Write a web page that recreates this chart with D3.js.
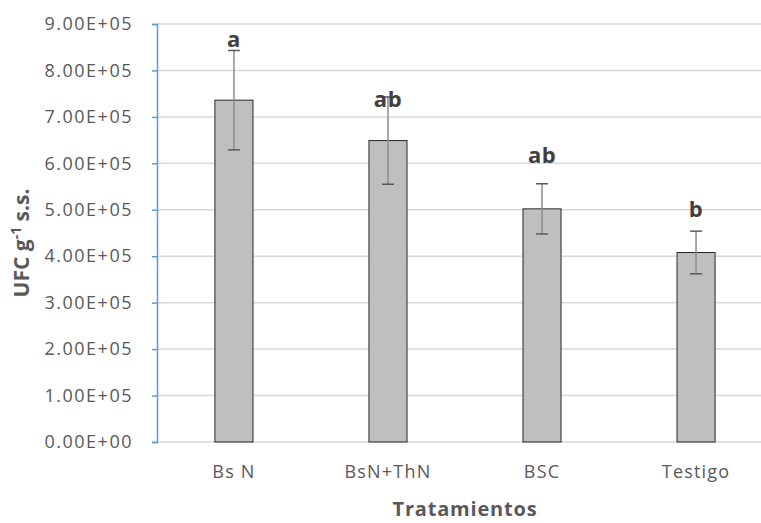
<!DOCTYPE html>
<html>
<head>
<meta charset="utf-8">
<script src="https://cdn.jsdelivr.net/npm/d3@7"></script>
<style>
  body { margin: 0; background: #fff; }
  svg text { font-family: "Open Sans", "DejaVu Sans", sans-serif; }
</style>
</head>
<body>
<div id="chart"></div>
<script>
// Data
var treatments = ['Bs N', 'BsN+ThN', 'BSC', 'Testigo'];
var means = [7.36e5, 6.49e5, 5.02e5, 4.08e5];
var errors = [1.07e5, 0.94e5, 0.54e5, 0.46e5];
var letters = ['a', 'ab', 'ab', 'b'];
var letterAt = [8.51e5, 7.21e5, 6.01e5, 4.84e5]; // where the letters sit, in axis units
var yTicks = [0, 1e5, 2e5, 3e5, 4e5, 5e5, 6e5, 7e5, 8e5, 9e5];

var width = 761, height = 523;
var margin = { top: 24, right: -12, bottom: 81, left: 157 };

var svg = d3.select('#chart').append('svg')
  .attr('width', width)
  .attr('height', height);

var x = d3.scaleBand()
  .domain(treatments)
  .range([margin.left, width - margin.right])
  .paddingInner(0.753)
  .paddingOuter(0.376);

var y = d3.scaleLinear()
  .domain([0, 9e5])
  .range([height - margin.bottom, margin.top]);

// Excel style scientific labels: 9.00E+05
function sci(v) {
  if (v === 0) return '0.00E+00';
  var e = Math.floor(Math.log10(v));
  var m = v / Math.pow(10, e);
  return m.toFixed(2) + 'E+' + (e < 10 ? '0' + e : e);
}

// gridlines
svg.append('g')
  .selectAll('line')
  .data(yTicks.slice(1))
  .enter().append('line')
  .attr('x1', margin.left)
  .attr('x2', width - margin.right)
  .attr('y1', function(d) { return y(d); })
  .attr('y2', function(d) { return y(d); })
  .attr('stroke', '#d9d9d9')
  .attr('stroke-width', 1.5);

// bottom axis line
svg.append('line')
  .attr('x1', margin.left)
  .attr('x2', width - margin.right)
  .attr('y1', y(0))
  .attr('y2', y(0))
  .attr('stroke', '#d9d9d9')
  .attr('stroke-width', 1.5);

// bars
svg.append('g')
  .selectAll('rect')
  .data(treatments)
  .enter().append('rect')
  .attr('x', function(d) { return x(d); })
  .attr('width', x.bandwidth())
  .attr('y', function(d, i) { return y(means[i]); })
  .attr('height', function(d, i) { return y(0) - y(means[i]); })
  .attr('fill', '#bfbfbf')
  .attr('stroke', '#262626')
  .attr('stroke-width', 1);

// error bars
var err = svg.append('g');
treatments.forEach(function(d, i) {
  var cx = x(d) + x.bandwidth() / 2;
  var hi = y(means[i] + errors[i]), lo = y(means[i] - errors[i]);
  err.append('line')
    .attr('x1', cx).attr('x2', cx)
    .attr('y1', hi).attr('y2', lo)
    .attr('stroke', '#8c8c8c')
    .attr('stroke-width', 1.5);
  [hi, lo].forEach(function(yy) {
    err.append('line')
      .attr('x1', cx - 6).attr('x2', cx + 6)
      .attr('y1', yy).attr('y2', yy)
      .attr('stroke', '#595959')
      .attr('stroke-width', 1.5);
  });
});

// significance letters
svg.append('g')
  .selectAll('text')
  .data(letters)
  .enter().append('text')
  .attr('x', function(d, i) { return x(treatments[i]) + x.bandwidth() / 2; })
  .attr('y', function(d, i) { return y(letterAt[i]); })
  .attr('text-anchor', 'middle')
  .attr('font-size', 22)
  .attr('font-weight', 'bold')
  .attr('letter-spacing', 0.5)
  .attr('fill', '#404040')
  .text(function(d) { return d; });

// y axis (the blue one)
var yAxis = svg.append('g')
  .attr('transform', 'translate(' + margin.left + ',0)')
  .call(d3.axisLeft(y).tickValues(yTicks).tickFormat(sci).tickSize(5).tickPadding(19));
yAxis.select('.domain').attr('stroke', '#5b9bd5').attr('stroke-width', 1.5);
yAxis.selectAll('.tick line').attr('stroke', '#5b9bd5').attr('stroke-width', 1.5);
yAxis.selectAll('.tick text')
  .attr('fill', '#595959')
  .attr('letter-spacing', 1.5)
  .style('font-size', '18px')
  .style('font-family', '"Open Sans", sans-serif');

// x labels
var xAxis = svg.append('g')
  .attr('transform', 'translate(0,' + y(0) + ')')
  .call(d3.axisBottom(x).tickSize(0).tickPadding(23));
xAxis.select('.domain').remove();
xAxis.selectAll('.tick text')
  .attr('fill', '#595959')
  .attr('letter-spacing', 1.2)
  .style('font-size', '18px')
  .style('font-family', '"Open Sans", sans-serif');

// axis titles
svg.append('text')
  .attr('x', (margin.left + width - margin.right) / 2)
  .attr('y', 516)
  .attr('text-anchor', 'middle')
  .attr('font-size', 20)
  .attr('font-weight', 'bold')
  .attr('letter-spacing', 0.8)
  .attr('fill', '#595959')
  .text('Tratamientos');

var yTitle = svg.append('text')
  .attr('transform', 'translate(29,' + (y(4.5e5) + 10) + ') rotate(-90)')
  .attr('text-anchor', 'middle')
  .attr('font-size', 21)
  .attr('font-weight', 'bold')
  .attr('fill', '#595959');
yTitle.append('tspan').text('UFC g');
yTitle.append('tspan').attr('dy', -8).attr('font-size', 14).text('-1');
yTitle.append('tspan').attr('dy', 8).text(' s.s.');
</script>
</body>
</html>
